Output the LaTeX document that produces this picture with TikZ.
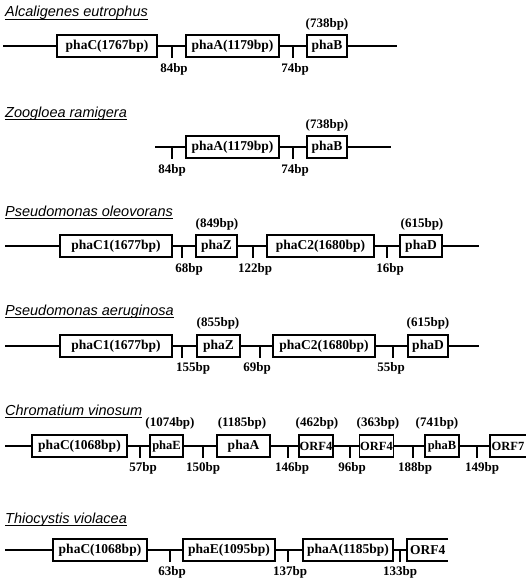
\documentclass[tikz,border=0pt]{standalone}
\usepackage{fontspec}
\newfontfamily\titlefam{Liberation Sans}
\newfontfamily\genefam{Liberation Serif}
\begin{document}
\begin{tikzpicture}[x=1pt,y=-1pt,
  gene/.style={draw, line width=1.2pt, minimum height=22pt, inner sep=0pt,
    font=\genefam\bfseries\fontsize{13.5}{14}\selectfont},
  smallgene/.style={gene, font=\genefam\bfseries\fontsize{12.5}{13}\selectfont},
  genetext/.style={inner sep=0pt, anchor=west, font=\genefam\bfseries\fontsize{12.5}{13}\selectfont},
  bp/.style={inner sep=0pt, font=\genefam\bfseries\fontsize{13}{14}\selectfont},
  species/.style={inner sep=0pt, anchor=base west, font=\titlefam\itshape\fontsize{14.5}{16}\selectfont},
  dna/.style={line width=1.2pt},
  tickline/.style={line width=1.2pt},
  boxline/.style={line width=1.2pt},
  uline/.style={line width=0.9pt}]
\useasboundingbox (0,0) rectangle (526,586);

% ---------- Row 1: Alcaligenes eutrophus ----------
\node[species] (t1) at (5,17) {Alcaligenes eutrophus};
\draw[uline] ([yshift=-2.5pt]t1.base west) -- ([yshift=-2.5pt]t1.base east);
\coordinate (a0) at (3,46);
\coordinate (a9) at (397,46);
\node[gene, minimum width=100pt] (a1) at (107,46) {phaC(1767bp)};
\node[gene, minimum width=93pt] (a2) at (232.5,46) {phaA(1179bp)};
\node[gene, minimum width=40pt] (a3) at (327,46) {phaB};
\draw[dna] (a0) -- (a1.west) (a1.east) -- (a2.west) (a2.east) -- (a3.west) (a3.east) -- (a9);
\coordinate (ak1) at (172,46); \coordinate (ak1b) at (172,58);
\coordinate (ak2) at (293,46); \coordinate (ak2b) at (293,58);
\draw[tickline] (ak1) -- (ak1b) (ak2) -- (ak2b);
\node[bp] (al1) at (174,69) {84bp};
\node[bp] (al2) at (295,69) {74bp};
\node[bp] (as3) at (327,24) {(738bp)};

% ---------- Row 2: Zoogloea ramigera ----------
\node[species] (t2) at (5,117) {Zoogloea ramigera};
\draw[uline] ([yshift=-2.5pt]t2.base west) -- ([yshift=-2.5pt]t2.base east);
\coordinate (b0) at (155,147);
\coordinate (b9) at (391,147);
\node[gene, minimum width=93pt] (b1) at (232.5,147) {phaA(1179bp)};
\node[gene, minimum width=40pt] (b2) at (327,147) {phaB};
\draw[dna] (b0) -- (b1.west) (b1.east) -- (b2.west) (b2.east) -- (b9);
\coordinate (bk1) at (172,147); \coordinate (bk1b) at (172,159);
\coordinate (bk2) at (293,147); \coordinate (bk2b) at (293,159);
\draw[tickline] (bk1) -- (bk1b) (bk2) -- (bk2b);
\node[bp] (bl1) at (172,170) {84bp};
\node[bp] (bl2) at (295,170) {74bp};
\node[bp] (bs2) at (327,125) {(738bp)};

% ---------- Row 3: Pseudomonas oleovorans ----------
\node[species] (t3) at (5,216) {Pseudomonas oleovorans};
\draw[uline] ([yshift=-2.5pt]t3.base west) -- ([yshift=-2.5pt]t3.base east);
\coordinate (c0) at (5,246);
\coordinate (c9) at (479,246);
\node[gene, minimum width=112pt] (c1) at (116,246) {phaC1(1677bp)};
\node[gene, minimum width=41pt] (c2) at (216.5,246) {phaZ};
\node[gene, minimum width=107pt] (c3) at (320.5,246) {phaC2(1680bp)};
\node[gene, minimum width=42pt] (c4) at (421,246) {phaD};
\draw[dna] (c0) -- (c1.west) (c1.east) -- (c2.west) (c2.east) -- (c3.west)
  (c3.east) -- (c4.west) (c4.east) -- (c9);
\coordinate (ck1) at (182,246); \coordinate (ck1b) at (182,258);
\coordinate (ck2) at (253,246); \coordinate (ck2b) at (253,258);
\coordinate (ck3) at (387,246); \coordinate (ck3b) at (387,258);
\draw[tickline] (ck1) -- (ck1b) (ck2) -- (ck2b) (ck3) -- (ck3b);
\node[bp] (cl1) at (189,269) {68bp};
\node[bp] (cl2) at (255,269) {122bp};
\node[bp] (cl3) at (390,269) {16bp};
\node[bp] (cs2) at (217,224) {(849bp)};
\node[bp] (cs4) at (422,224) {(615bp)};

% ---------- Row 4: Pseudomonas aeruginosa ----------
\node[species] (t4) at (5,315) {Pseudomonas aeruginosa};
\draw[uline] ([yshift=-2.5pt]t4.base west) -- ([yshift=-2.5pt]t4.base east);
\coordinate (d0) at (5,346);
\coordinate (d9) at (479,346);
\node[gene, minimum width=112pt] (d1) at (116,346) {phaC1(1677bp)};
\node[gene, minimum width=43pt] (d2) at (218.5,346) {phaZ};
\node[gene, minimum width=102pt] (d3) at (324,346) {phaC2(1680bp)};
\node[gene, minimum width=40pt] (d4) at (428,346) {phaD};
\draw[dna] (d0) -- (d1.west) (d1.east) -- (d2.west) (d2.east) -- (d3.west)
  (d3.east) -- (d4.west) (d4.east) -- (d9);
\coordinate (dk1) at (182,346); \coordinate (dk1b) at (182,358);
\coordinate (dk2) at (260,346); \coordinate (dk2b) at (260,358);
\coordinate (dk3) at (393,346); \coordinate (dk3b) at (393,358);
\draw[tickline] (dk1) -- (dk1b) (dk2) -- (dk2b) (dk3) -- (dk3b);
\node[bp] (dl1) at (193,368) {155bp};
\node[bp] (dl2) at (257,368) {69bp};
\node[bp] (dl3) at (391,368) {55bp};
\node[bp] (ds2) at (218,323) {(855bp)};
\node[bp] (ds4) at (428,323) {(615bp)};

% ---------- Row 5: Chromatium vinosum ----------
\node[species] (t5) at (5,415) {Chromatium vinosum};
\draw[uline] ([yshift=-2.5pt]t5.base west) -- ([yshift=-2.5pt]t5.base east);
\coordinate (e0) at (5,446);
\node[gene, minimum width=95pt] (e1) at (79.5,446) {phaC(1068bp)};
\node[smallgene, minimum width=33pt] (e2) at (166.5,446) {phaE};
\node[gene, minimum width=53pt] (e3) at (243.5,446) {phaA};
\node[smallgene, minimum width=34pt] (e4) at (316,446) {ORF4};
\node[smallgene, minimum width=34pt] (e5) at (376.5,446) {ORF4};
\node[smallgene, minimum width=34pt] (e6) at (442,446) {phaB};
\node[genetext] (e7) at (491.5,446) {ORF7};
\coordinate (e7w) at (490,446);
\coordinate (e7a) at (530,435); \coordinate (e7b) at (490,435);
\coordinate (e7c) at (490,457); \coordinate (e7d) at (530,457);
\draw[boxline] (e7a) -- (e7b) -- (e7c) -- (e7d);
\draw[dna] (e0) -- (e1.west) (e1.east) -- (e2.west) (e2.east) -- (e3.west)
  (e3.east) -- (e4.west) (e4.east) -- (e5.west) (e5.east) -- (e6.west) (e6.east) -- (e7w);
\coordinate (ek1) at (140,446); \coordinate (ek1b) at (140,458);
\coordinate (ek2) at (203,446); \coordinate (ek2b) at (203,458);
\coordinate (ek3) at (288,446); \coordinate (ek3b) at (288,458);
\coordinate (ek4) at (350,446); \coordinate (ek4b) at (350,458);
\coordinate (ek5) at (413,446); \coordinate (ek5b) at (413,458);
\coordinate (ek6) at (477,446); \coordinate (ek6b) at (477,458);
\draw[tickline] (ek1) -- (ek1b) (ek2) -- (ek2b) (ek3) -- (ek3b)
  (ek4) -- (ek4b) (ek5) -- (ek5b) (ek6) -- (ek6b);
\node[bp] (el1) at (143,468) {57bp};
\node[bp] (el2) at (203,468) {150bp};
\node[bp] (el3) at (292,468) {146bp};
\node[bp] (el4) at (352,468) {96bp};
\node[bp] (el5) at (415,468) {188bp};
\node[bp] (el6) at (482,468) {149bp};
\node[bp] (es2) at (170,423) {(1074bp)};
\node[bp] (es3) at (242,423) {(1185bp)};
\node[bp] (es4) at (317,423) {(462bp)};
\node[bp] (es5) at (378,423) {(363bp)};
\node[bp] (es6) at (437,423) {(741bp)};

% ---------- Row 6: Thiocystis violacea ----------
\node[species] (t6) at (5,523) {Thiocystis violacea};
\draw[uline] ([yshift=-2.5pt]t6.base west) -- ([yshift=-2.5pt]t6.base east);
\coordinate (f0) at (5,550);
\node[gene, minimum width=94pt] (f1) at (100,550) {phaC(1068bp)};
\node[gene, minimum width=92pt] (f2) at (229,550) {phaE(1095bp)};
\node[gene, minimum width=90pt] (f3) at (348,550) {phaA(1185bp)};
\node[genetext, font=\genefam\bfseries\fontsize{13.5}{14}\selectfont] (f4) at (410,550) {ORF4};
\coordinate (f4w) at (407,550);
\coordinate (f4a) at (448,539); \coordinate (f4b) at (407,539);
\coordinate (f4c) at (407,561); \coordinate (f4d) at (448,561);
\draw[boxline] (f4a) -- (f4b) -- (f4c) -- (f4d);
\draw[dna] (f0) -- (f1.west) (f1.east) -- (f2.west) (f2.east) -- (f3.west) (f3.east) -- (f4w);
\coordinate (fk1) at (170,550); \coordinate (fk1b) at (170,562);
\coordinate (fk2) at (288,550); \coordinate (fk2b) at (288,562);
\coordinate (fk3) at (400,550); \coordinate (fk3b) at (400,562);
\draw[tickline] (fk1) -- (fk1b) (fk2) -- (fk2b) (fk3) -- (fk3b);
\node[bp] (fl1) at (172,572) {63bp};
\node[bp] (fl2) at (290,572) {137bp};
\node[bp] (fl3) at (400,572) {133bp};
\end{tikzpicture}
\end{document}
